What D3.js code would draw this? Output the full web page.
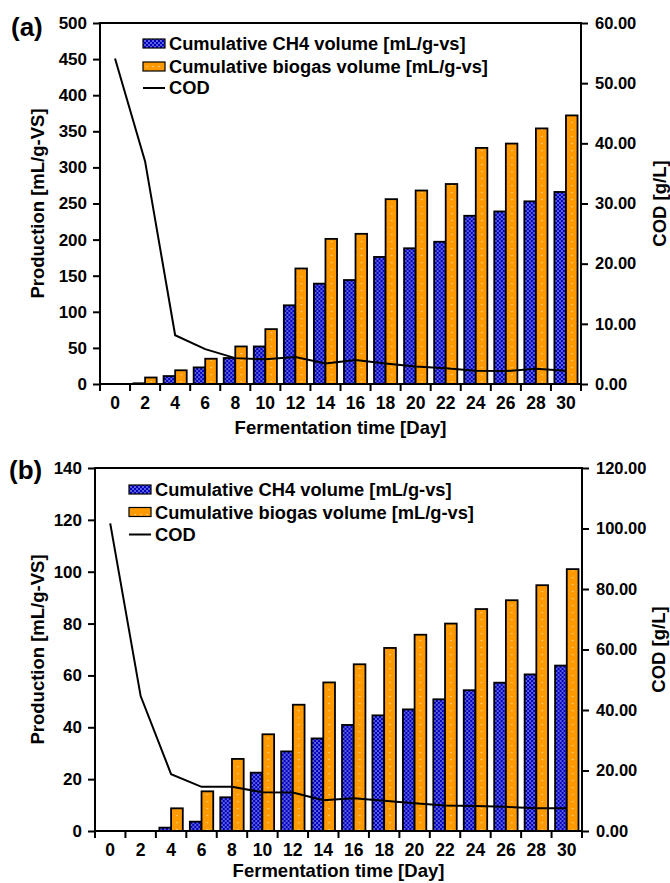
<!DOCTYPE html>
<html>
<head>
<meta charset="utf-8">
<script src="https://cdn.jsdelivr.net/npm/d3@7"></script>
<style>
  body { margin: 0; background: #fff; }
  svg text { font-family: "Liberation Sans", Arial, sans-serif; font-weight: bold; fill: #000; }
</style>
</head>
<body>
<svg id="chart" width="670" height="883"></svg>
<script>
const days = [0, 2, 4, 6, 8, 10, 12, 14, 16, 18, 20, 22, 24, 26, 28, 30]

// panel (a)
const ch4A = [0, 1, 11, 23, 36, 52, 109, 139, 144, 176, 188, 197, 233, 239, 253, 266]
const biogasA = [0, 9, 19, 35, 52, 76, 160, 201, 208, 256, 268, 277, 327, 333, 354, 372]
const codA = [54.1, 37, 8.1, 5.8, 4.3, 4.1, 4.5, 3.4, 4.0, 3.4, 2.9, 2.6, 2.2, 2.15, 2.55, 2.2]
const leftTicksA = [0, 50, 100, 150, 200, 250, 300, 350, 400, 450, 500]
const rightTicksA = [0, 10, 20, 30, 40, 50, 60]

// panel (b)
const ch4B = [0, 0, 1.3, 3.6, 13, 22.5, 30.7, 35.7, 40.9, 44.6, 46.9, 50.8, 54.3, 57.2, 60.4, 63.8]
const biogasB = [0, 0, 8.75, 15.3, 27.8, 37.3, 48.7, 57.3, 64.3, 70.6, 75.7, 80, 85.6, 89, 94.8, 101]
const codB = [101.7, 44.6, 18.8, 14.6, 14.6, 12.8, 12.7, 10.2, 10.8, 10.0, 9.2, 8.4, 8.3, 8.0, 7.5, 7.5]
const leftTicksB = [0, 20, 40, 60, 80, 100, 120, 140]
const rightTicksB = [0, 20, 40, 60, 80, 100, 120]

const legendLabels = ['Cumulative CH4 volume [mL/g-vs]', 'Cumulative biogas volume [mL/g-vs]', 'COD']
const xTitle = 'Fermentation time [Day]'
const yTitle = 'Production [mL/g-VS]'
const y2Title = 'COD [g/L]'

const svg = d3.select('#chart')
const defs = svg.append('defs')

// blue bar fill: white spheres on blue
const pBlue = defs.append('pattern').attr('id', 'pBlue')
    .attr('patternUnits', 'userSpaceOnUse').attr('width', 4).attr('height', 4)
pBlue.append('rect').attr('width', 4).attr('height', 4).attr('fill', '#0000c0')
pBlue.append('circle').attr('cx', 1).attr('cy', 1).attr('r', 0.75).attr('fill', '#e6eaff')
pBlue.append('circle').attr('cx', 3).attr('cy', 3).attr('r', 0.75).attr('fill', '#e6eaff')

// orange bar fill: sparse light dots
const pOrange = defs.append('pattern').attr('id', 'pOrange')
    .attr('patternUnits', 'userSpaceOnUse').attr('width', 6).attr('height', 7)
pOrange.append('rect').attr('width', 6).attr('height', 7).attr('fill', '#ff9900')
pOrange.append('rect').attr('x', 2.5).attr('y', 3).attr('width', 1.2).attr('height', 1.2).attr('fill', '#ffe2b8')

drawPanel({
    tag: '(a)', tagX: 11, tagY: 36,
    left: 100, right: 581, top: 23, bottom: 384, titleY: 434, y2TitleX: 666,
    ch4: ch4A, biogas: biogasA, cod: codA,
    leftTicks: leftTicksA, rightTicks: rightTicksA,
    legX: 143, legY: [50, 73, 94]
})

drawPanel({
    tag: '(b)', tagX: 9, tagY: 479,
    left: 95, right: 582, top: 468, bottom: 831, titleY: 877, y2TitleX: 665,
    ch4: ch4B, biogas: biogasB, cod: codB,
    leftTicks: leftTicksB, rightTicks: rightTicksB,
    legX: 129, legY: [496, 518.5, 540.5]
})

function drawPanel(p) {
    const g = svg.append('g')

    const x = d3.scaleBand().domain(days).range([p.left, p.right]).paddingInner(0).paddingOuter(0)
    const xSub = d3.scaleBand().domain(['ch4', 'biogas']).range([0, x.bandwidth()])
        .paddingInner(0).paddingOuter(0.3)
    const y = d3.scaleLinear()
        .domain([0, d3.max(p.leftTicks)])
        .range([p.bottom, p.top])
    const y2 = d3.scaleLinear()
        .domain([0, d3.max(p.rightTicks)])
        .range([p.bottom, p.top])

    // bars
    const groups = g.append('g').selectAll('g')
        .data(days)
        .enter()
        .append('g')
        .attr('transform', d => `translate(${x(d)},0)`)

    groups.append('rect')
        .attr('x', xSub('ch4'))
        .attr('width', xSub.bandwidth())
        .attr('y', (d, i) => y(p.ch4[i]))
        .attr('height', (d, i) => y(0) - y(p.ch4[i]))
        .attr('fill', 'url(#pBlue)')
        .attr('stroke', (d, i) => p.ch4[i] > 0 ? '#000' : 'none')
        .attr('stroke-width', 1.8)

    groups.append('rect')
        .attr('x', xSub('biogas'))
        .attr('width', xSub.bandwidth())
        .attr('y', (d, i) => y(p.biogas[i]))
        .attr('height', (d, i) => y(0) - y(p.biogas[i]))
        .attr('fill', 'url(#pOrange)')
        .attr('stroke', (d, i) => p.biogas[i] > 0 ? '#000' : 'none')
        .attr('stroke-width', 1.8)

    // COD line
    const line = d3.line()
        .x((d, i) => x(days[i]) + x.bandwidth() / 2)
        .y(d => y2(d))
    g.append('path')
        .datum(p.cod)
        .attr('d', line)
        .attr('fill', 'none')
        .attr('stroke', '#000')
        .attr('stroke-width', 2)

    // axes
    const yAxis = d3.axisLeft(y).tickValues(p.leftTicks).tickSize(7).tickPadding(6).tickSizeOuter(0)
    const gy = g.append('g')
        .attr('transform', `translate(${p.left},0)`)
        .call(yAxis)
    const yAxis2 = d3.axisRight(y2).tickValues(p.rightTicks).tickSize(7).tickPadding(7)
        .tickSizeOuter(0).tickFormat(d3.format('.2f'))
    const gy2 = g.append('g')
        .attr('transform', `translate(${p.right},0)`)
        .call(yAxis2)
    const xAxis = d3.axisBottom(x).tickSize(0).tickPadding(13).tickSizeOuter(0)
    const gx = g.append('g')
        .attr('transform', `translate(0,${p.bottom})`)
        .call(xAxis)

    gy.attr('font-size', 17)
    gy2.attr('font-size', 16.5)
    gx.attr('font-size', 17.5)
    for (const ax of [gy, gy2, gx]) {
        ax.attr('font-family', null)
        ax.select('.domain').remove()
        ax.selectAll('.tick line').attr('stroke', '#000').attr('stroke-width', 2)
    }

    // x ticks on category boundaries
    const bounds = days.map(d => x(d)).concat([p.right])
    g.append('g').selectAll('line')
        .data(bounds)
        .enter()
        .append('line')
        .attr('x1', d => d).attr('x2', d => d)
        .attr('y1', p.bottom).attr('y2', p.bottom + 7)
        .attr('stroke', '#000').attr('stroke-width', 2)

    // plot frame
    g.append('rect')
        .attr('x', p.left).attr('y', p.top)
        .attr('width', p.right - p.left).attr('height', p.bottom - p.top)
        .attr('fill', 'none').attr('stroke', '#000').attr('stroke-width', 2)

    // titles
    g.append('text')
        .text(p.tag)
        .attr('x', p.tagX).attr('y', p.tagY)
        .attr('font-size', 26)

    g.append('text')
        .text(xTitle)
        .attr('x', (p.left + p.right) / 2)
        .attr('y', p.titleY)
        .attr('text-anchor', 'middle')
        .attr('font-size', 18.5)

    const midY = (p.top + p.bottom) / 2
    g.append('text')
        .text(yTitle)
        .attr('transform', `translate(44,${midY}) rotate(-90)`)
        .attr('text-anchor', 'middle')
        .attr('font-size', 18.5)

    g.append('text')
        .text(y2Title)
        .attr('transform', `translate(${p.y2TitleX},${midY}) rotate(-90)`)
        .attr('text-anchor', 'middle')
        .attr('font-size', 18.5)

    // legend
    const leg = g.append('g')
    leg.append('rect')
        .attr('x', p.legX).attr('y', p.legY[0] - 11)
        .attr('width', 22).attr('height', 9)
        .attr('fill', 'url(#pBlue)').attr('stroke', '#000').attr('stroke-width', 1.2)
    leg.append('rect')
        .attr('x', p.legX).attr('y', p.legY[1] - 11)
        .attr('width', 22).attr('height', 9)
        .attr('fill', 'url(#pOrange)').attr('stroke', '#000').attr('stroke-width', 1.2)
    leg.append('line')
        .attr('x1', p.legX).attr('x2', p.legX + 22)
        .attr('y1', p.legY[2] - 6).attr('y2', p.legY[2] - 6)
        .attr('stroke', '#000').attr('stroke-width', 2)
    leg.selectAll('text')
        .data(legendLabels)
        .enter()
        .append('text')
        .text(d => d)
        .attr('x', p.legX + 26)
        .attr('y', (d, i) => p.legY[i])
        .attr('font-size', 18.3)
}
</script>
</body>
</html>
